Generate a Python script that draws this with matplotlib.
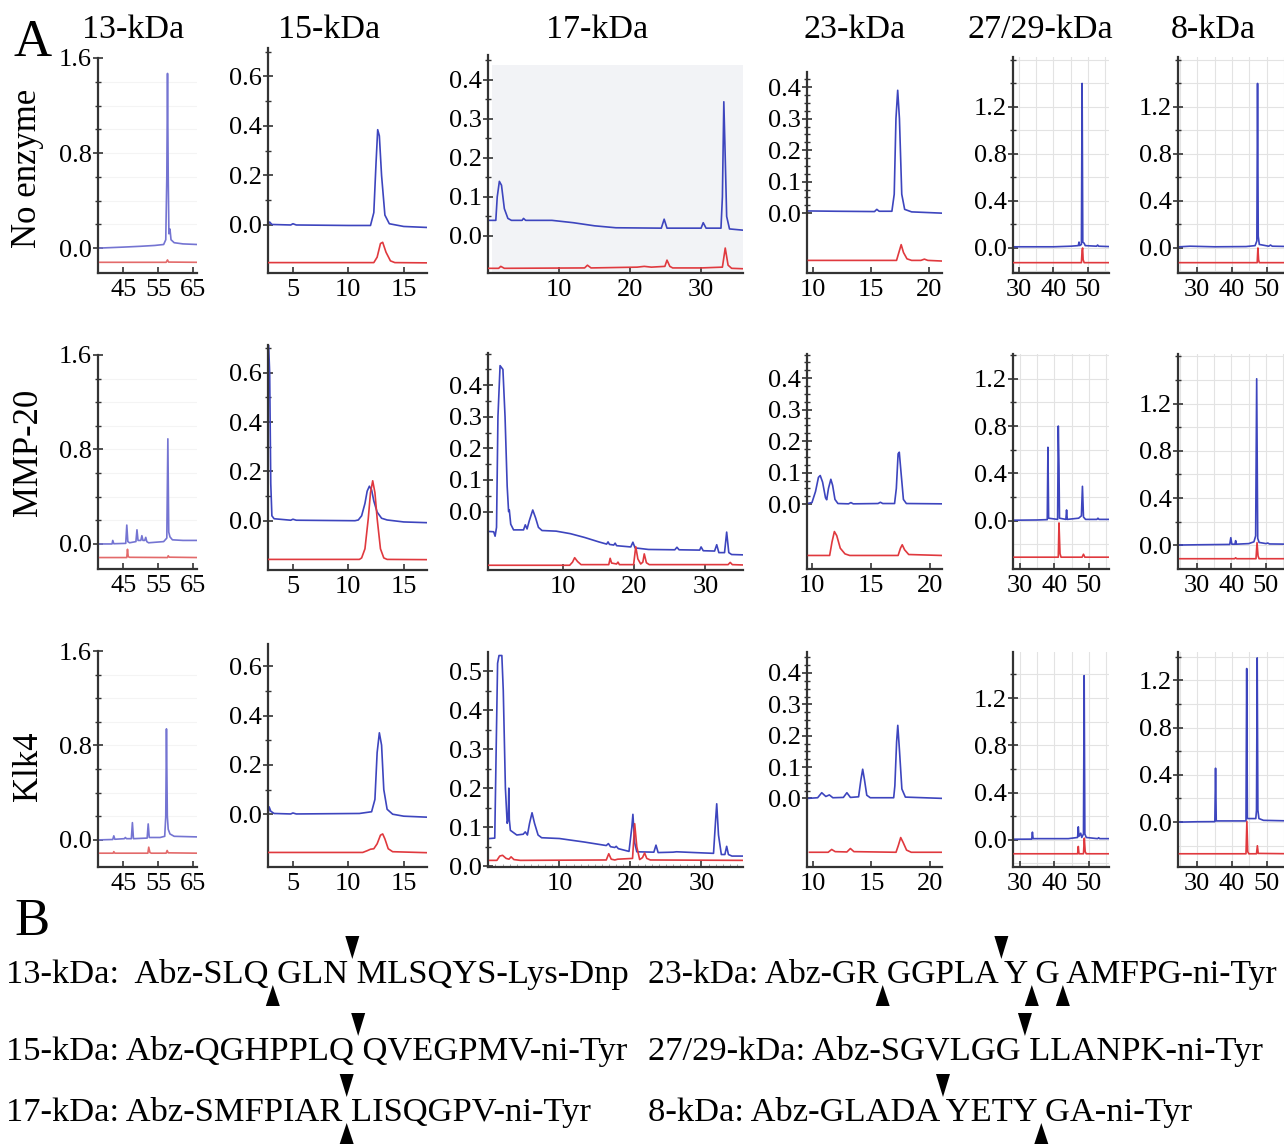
import matplotlib
matplotlib.use('Agg')
import numpy as np
import matplotlib.pyplot as plt
from matplotlib.patches import Polygon, Rectangle
from matplotlib.ticker import FixedLocator, FormatStrFormatter

plt.rcParams['font.family'] = ['Liberation Serif', 'DejaVu Serif']

# ---------------------------------------------------------------- data
columns = ['13-kDa', '15-kDa', '17-kDa', '23-kDa', '27/29-kDa', '8-kDa']
rows = ['No enzyme', 'MMP-20', 'Klk4']
x_ticks = [[45, 55, 65], [5, 10, 15], [10, 20, 30], [10, 15, 20], [30, 40, 50], [30, 40, 50]]

# traces as (time, absorbance) points
NE13_BLUE = [(38.3, 0.0), (45, 0.008), (50, 0.015), (54, 0.022), (56.5, 0.03), (57.1, 0.07), (57.4, 0.6),
             (57.6, 1.47), (57.8, 0.6), (58.0, 0.12), (58.3, 0.16), (58.6, 0.07), (59.5, 0.045), (62, 0.035), (66, 0.03)]
NE13_RED = [(38.3, -0.12), (57.2, -0.12), (57.6, -0.1), (57.9, -0.118), (66, -0.12)]
NE15_BLUE = [(2.8, 0.005), (2.9, 0.012), (3.1, 0.002), (4.8, 0.0), (5.0, 0.005), (5.3, 0.0), (10, -0.002),
             (12.0, -0.002), (12.3, 0.05), (12.5, 0.25), (12.65, 0.385), (12.8, 0.36), (13.0, 0.2), (13.3, 0.04),
             (13.7, 0.005), (15, -0.006), (17.1, -0.01)]
NE15_RED = [(2.8, -0.152), (12.3, -0.152), (12.6, -0.13), (12.9, -0.075), (13.1, -0.07), (13.4, -0.11),
            (13.8, -0.145), (14.2, -0.152), (17.1, -0.153)]
NE17_BLUE = [(0.1, 0.04), (1.1, 0.04), (1.3, 0.1), (1.6, 0.14), (1.9, 0.13), (2.3, 0.07), (2.8, 0.045), (3.3, 0.04),
             (4.8, 0.04), (5.0, 0.045), (5.3, 0.04), (9, 0.04), (12, 0.034), (15, 0.026), (18, 0.021), (24.4, 0.02),
             (24.8, 0.043), (25.2, 0.02), (30.0, 0.02), (30.3, 0.034), (30.7, 0.02), (32.8, 0.02), (33.0, 0.1),
             (33.2, 0.344), (33.4, 0.2), (33.6, 0.05), (34, 0.018), (35.8, 0.015)]
NE17_RED = [(0.1, -0.083), (1.5, -0.083), (1.8, -0.078), (2.3, -0.083), (13.6, -0.082), (14.0, -0.075),
            (14.5, -0.082), (21, -0.08), (22, -0.078), (23, -0.08), (24.9, -0.078), (25.2, -0.062), (25.6, -0.078),
            (26, -0.082), (30, -0.082), (33.0, -0.08), (33.4, -0.031), (33.8, -0.075), (34.3, -0.083), (35.8, -0.084)]
NE23_BLUE = [(9.5, 0.007), (12, 0.006), (15.3, 0.005), (15.5, 0.012), (15.7, 0.006), (16.8, 0.006), (17.0, 0.06),
             (17.15, 0.3), (17.3, 0.39), (17.45, 0.3), (17.65, 0.06), (17.9, 0.012), (18.5, 0.004), (21.1, 0.0)]
NE23_RED = [(9.6, -0.15), (17.2, -0.15), (17.4, -0.125), (17.6, -0.1), (17.8, -0.125), (18.1, -0.145),
            (18.5, -0.15), (19.3, -0.15), (19.6, -0.146), (19.9, -0.15), (21.1, -0.152)]
NE27_BLUE = [(28.5, 0.01), (40, 0.01), (45, 0.015), (47.2, 0.02), (47.4, 0.05), (47.6, 0.02), (48.1, 0.03),
             (48.3, 1.4), (48.5, 0.05), (48.9, 0.04), (49.2, 0.02), (52.5, 0.015), (52.8, 0.025), (53.1, 0.015),
             (56, 0.012)]
NE27_RED = [(28.5, -0.125), (48.1, -0.125), (48.3, -0.02), (48.45, 0.0), (48.6, -0.1), (48.9, -0.125), (56, -0.125)]
NE8_BLUE = [(25, 0.01), (28, 0.015), (35, 0.01), (44, 0.012), (46.6, 0.02), (47.1, 0.06), (47.3, 1.4), (47.5, 0.1),
            (47.8, 0.03), (50.5, 0.015), (51, 0.025), (51.5, 0.015), (57, 0.012)]
NE8_RED = [(25, -0.125), (47.2, -0.125), (47.4, 0.0), (47.6, -0.1), (47.8, -0.125), (57, -0.125)]

MMP13_BLUE = [(38.3, 0.0), (41.8, 0.0), (42.0, 0.03), (42.3, 0.002), (45.7, 0.005), (46.0, 0.16), (46.3, 0.02),
              (46.8, 0.01), (48.6, 0.02), (48.9, 0.12), (49.2, 0.03), (50.0, 0.03), (50.3, 0.07), (50.6, 0.03),
              (51.1, 0.03), (51.4, 0.056), (51.7, 0.02), (52.2, 0.01), (56.5, 0.02), (57.4, 0.05), (57.7, 0.89),
              (57.95, 0.1), (58.3, 0.06), (59, 0.035), (62, 0.03), (66, 0.03)]
MMP13_RED = [(38.3, -0.115), (46.0, -0.115), (46.2, -0.045), (46.4, -0.105), (46.7, -0.113), (57.6, -0.115),
             (57.8, -0.1), (58.1, -0.112), (66, -0.115)]
MMP15_BLUE = [(2.8, 0.72), (2.9, 0.6), (3.0, 0.15), (3.1, 0.02), (3.3, 0.008), (4.8, 0.002), (5.0, 0.006),
              (5.3, 0.002), (10.6, 0.0), (10.9, 0.003), (11.2, 0.02), (11.5, 0.07), (11.7, 0.12), (11.9, 0.14),
              (12.1, 0.125), (12.3, 0.08), (12.6, 0.035), (13.0, 0.01), (13.5, 0.003), (15, -0.005), (17.1, -0.008)]
MMP15_RED = [(2.8, -0.157), (11.0, -0.157), (11.2, -0.151), (11.5, -0.114), (11.8, 0.009), (12.0, 0.114),
             (12.2, 0.162), (12.4, 0.114), (12.6, 0.009), (12.9, -0.114), (13.2, -0.151), (13.5, -0.157),
             (17.1, -0.158)]
MMP17_BLUE = [(-0.5, -0.063), (0.2, -0.064), (0.4, -0.078), (0.6, -0.05), (0.8, 0.3), (1.1, 0.462), (1.5, 0.45),
              (1.8, 0.3), (2.1, 0.08), (2.3, 0.0), (2.4, 0.005), (2.6, -0.04), (3.0, -0.058), (4.4, -0.058),
              (4.65, -0.042), (4.9, -0.055), (5.2, -0.03), (5.7, 0.005), (6.1, -0.02), (6.5, -0.05), (7.0, -0.06),
              (9.0, -0.062), (11, -0.07), (13, -0.082), (15, -0.096), (16.1, -0.103), (16.3, -0.096),
              (16.5, -0.104), (17.1, -0.106), (17.3, -0.1), (17.5, -0.108), (19.5, -0.112), (19.8, -0.097),
              (20.1, -0.115), (22, -0.12), (25.7, -0.121), (26.0, -0.113), (26.3, -0.121), (29.2, -0.122),
              (29.4, -0.112), (29.7, -0.124), (31.3, -0.125), (31.6, -0.105), (31.9, -0.13), (32.7, -0.13),
              (33.0, -0.065), (33.3, -0.13), (33.7, -0.136), (35.2, -0.137)]
MMP17_RED = [(-0.5, -0.17), (10.9, -0.17), (11.3, -0.16), (11.6, -0.146), (12.0, -0.158), (12.5, -0.168),
             (16.4, -0.168), (16.6, -0.148), (16.8, -0.163), (17.5, -0.166), (17.7, -0.16), (17.9, -0.168),
             (19.9, -0.168), (20.2, -0.111), (20.5, -0.15), (20.9, -0.166), (21.2, -0.16), (21.4, -0.134),
             (21.7, -0.162), (22.1, -0.168), (33.2, -0.168), (33.5, -0.161), (33.8, -0.168), (35.2, -0.169)]
MMP23_BLUE = [(9.6, 0.002), (10.0, 0.005), (10.3, 0.04), (10.55, 0.085), (10.7, 0.091), (10.9, 0.07),
              (11.15, 0.02), (11.25, 0.014), (11.4, 0.05), (11.6, 0.079), (11.75, 0.06), (11.95, 0.015),
              (12.2, 0.002), (13.1, 0.001), (13.3, 0.005), (13.5, 0.001), (15.6, 0.002), (15.8, 0.006),
              (16.0, 0.002), (17.0, 0.002), (17.15, 0.05), (17.3, 0.16), (17.4, 0.165), (17.55, 0.1),
              (17.75, 0.015), (18.0, 0.002), (21.0, 0.001)]
MMP23_RED = [(9.7, -0.163), (11.5, -0.163), (11.7, -0.12), (11.9, -0.087), (12.1, -0.1), (12.4, -0.14),
             (12.8, -0.158), (13.2, -0.163), (17.3, -0.163), (17.5, -0.14), (17.65, -0.129), (17.85, -0.145),
             (18.2, -0.16), (21.0, -0.163)]
MMP27_BLUE = [(28.3, 0.003), (35, 0.005), (37.9, 0.008), (38.1, 0.62), (38.3, 0.02), (40.9, 0.01), (41.1, 0.8),
              (41.3, 0.45), (41.45, 0.02), (43.3, 0.01), (43.5, 0.09), (43.7, 0.01), (47, 0.02), (47.8, 0.04),
              (48.1, 0.29), (48.4, 0.03), (49, 0.01), (52.3, 0.01), (52.6, 0.02), (52.9, 0.01), (55.8, 0.01)]
MMP27_RED = [(28.3, -0.31), (41.1, -0.31), (41.3, -0.02), (41.6, -0.28), (41.9, -0.31), (48.0, -0.31),
             (48.4, -0.285), (48.8, -0.31), (55.8, -0.31)]
MMP8_BLUE = [(25, 0.003), (30, 0.005), (39.5, 0.008), (39.8, 0.065), (40.1, 0.01), (41.0, 0.01), (41.2, 0.04),
             (41.4, 0.01), (45, 0.015), (46.5, 0.03), (47.0, 0.08), (47.3, 1.41), (47.6, 0.06), (48.0, 0.025),
             (50, 0.015), (50.5, 0.02), (51, 0.012), (57, 0.01)]
MMP8_RED = [(25, -0.113), (40.9, -0.113), (41.2, -0.105), (41.5, -0.113), (47.1, -0.113), (47.4, 0.023),
            (47.7, -0.09), (48.0, -0.113), (57, -0.113)]

KLK13_BLUE = [(38.3, 0.0), (42.0, 0.003), (42.3, 0.034), (42.6, 0.005), (45.3, 0.01), (45.6, 0.02), (45.9, 0.01),
              (47.3, 0.01), (47.6, 0.146), (47.9, 0.01), (51.8, 0.015), (52.1, 0.135), (52.4, 0.02), (55.5, 0.02),
              (56.8, 0.03), (57.1, 0.2), (57.3, 0.94), (57.55, 0.2), (57.8, 0.09), (58.3, 0.05), (59.5, 0.03),
              (66, 0.025)]
KLK13_RED = [(38.3, -0.113), (42.1, -0.113), (42.3, -0.1), (42.6, -0.113), (52.0, -0.113), (52.25, -0.062),
             (52.6, -0.108), (53, -0.113), (57.2, -0.113), (57.5, -0.09), (57.8, -0.11), (66, -0.113)]
KLK15_BLUE = [(2.8, 0.01), (2.85, 0.03), (3.0, 0.012), (3.3, 0.003), (4.8, 0.001), (5.0, 0.005), (5.3, 0.001),
              (11, 0.003), (12.1, 0.01), (12.4, 0.06), (12.6, 0.25), (12.8, 0.33), (13.0, 0.28), (13.2, 0.1),
              (13.5, 0.02), (14, 0.0), (15, -0.008), (17.1, -0.012)]
KLK15_RED = [(2.8, -0.155), (11.3, -0.155), (11.7, -0.148), (12.0, -0.142), (12.3, -0.14), (12.6, -0.12),
             (12.9, -0.085), (13.1, -0.08), (13.3, -0.1), (13.6, -0.14), (14.0, -0.152), (17.1, -0.156)]
KLK17_BLUE = [(0.2, 0.071), (0.9, 0.072), (1.1, 0.3), (1.3, 0.52), (1.5, 0.54), (1.9, 0.54), (2.1, 0.45),
              (2.4, 0.2), (2.65, 0.11), (2.8, 0.12), (2.88, 0.2), (2.95, 0.12), (3.1, 0.092), (4.0, 0.08),
              (4.9, 0.082), (5.2, 0.088), (5.5, 0.08), (5.8, 0.11), (6.15, 0.137), (6.5, 0.11), (7.0, 0.08),
              (7.5, 0.073), (10, 0.071), (13.5, 0.062), (16.6, 0.053), (16.9, 0.058), (17.2, 0.05), (17.8, 0.048),
              (18.0, 0.051), (18.3, 0.045), (19.8, 0.038), (20.2, 0.1), (20.35, 0.133), (20.6, 0.06),
              (20.9, 0.037), (23.3, 0.036), (23.6, 0.054), (23.9, 0.035), (26, 0.036), (26.5, 0.037), (29, 0.035),
              (31.7, 0.033), (32.0, 0.12), (32.15, 0.16), (32.4, 0.08), (32.8, 0.03), (33.3, 0.03),
              (33.55, 0.051), (33.8, 0.03), (34.3, 0.026), (35.8, 0.026)]
KLK17_RED = [(0.2, 0.015), (1.2, 0.015), (1.6, 0.026), (2.0, 0.028), (2.5, 0.02), (2.9, 0.018), (3.2, 0.024),
             (3.6, 0.017), (4.5, 0.015), (16.6, 0.016), (16.95, 0.032), (17.3, 0.018), (17.8, 0.016),
             (18.2, 0.018), (20.3, 0.02), (20.6, 0.109), (20.9, 0.05), (21.3, 0.017), (21.7, 0.022),
             (22.0, 0.034), (22.3, 0.02), (22.8, 0.016), (35.8, 0.015)]
KLK23_BLUE = [(9.6, 0.0), (10.4, 0.002), (10.75, 0.018), (11.1, 0.006), (11.4, 0.011), (11.7, 0.002),
              (12.6, 0.003), (12.9, 0.018), (13.2, 0.003), (13.9, 0.005), (14.1, 0.06), (14.25, 0.093),
              (14.4, 0.06), (14.6, 0.01), (14.9, 0.002), (16.9, 0.002), (17.0, 0.04), (17.15, 0.18),
              (17.25, 0.233), (17.4, 0.15), (17.6, 0.03), (17.9, 0.004), (21.0, 0.0)]
KLK23_RED = [(9.7, -0.172), (11.3, -0.172), (11.6, -0.163), (11.9, -0.17), (12.9, -0.171), (13.2, -0.16),
             (13.5, -0.17), (17.1, -0.172), (17.3, -0.15), (17.5, -0.125), (17.7, -0.14), (18.0, -0.165),
             (18.4, -0.172), (21.0, -0.172)]
KLK27_BLUE = [(28.3, 0.005), (33.4, 0.006), (33.6, 0.065), (33.8, 0.01), (44, 0.01), (46.7, 0.02), (46.9, 0.11),
              (47.1, 0.03), (47.6, 0.056), (47.9, 0.02), (48.4, 0.05), (48.6, 1.39), (48.8, 0.05), (49.2, 0.02),
              (52.5, 0.01), (52.8, 0.018), (53.1, 0.01), (55.8, 0.01)]
KLK27_RED = [(28.3, -0.118), (46.7, -0.118), (46.9, -0.056), (47.1, -0.118), (48.4, -0.118), (48.65, 0.014),
             (48.9, -0.1), (49.2, -0.118), (55.8, -0.118)]
KLK8_BLUE = [(25, 0.0), (30, 0.003), (35.1, 0.004), (35.3, 0.456), (35.5, 0.01), (44.0, 0.01), (44.2, 1.30),
             (44.4, 0.03), (46.8, 0.03), (47.0, 0.1), (47.2, 1.39), (47.4, 0.1), (47.7, 0.03), (49, 0.015),
             (57, 0.01)]
KLK8_RED = [(25, -0.268), (44.0, -0.268), (44.25, 0.006), (44.5, -0.25), (44.8, -0.268), (47.0, -0.268),
            (47.25, -0.2), (47.5, -0.265), (57, -0.268)]

BLUE = [[NE13_BLUE, NE15_BLUE, NE17_BLUE, NE23_BLUE, NE27_BLUE, NE8_BLUE],
        [MMP13_BLUE, MMP15_BLUE, MMP17_BLUE, MMP23_BLUE, MMP27_BLUE, MMP8_BLUE],
        [KLK13_BLUE, KLK15_BLUE, KLK17_BLUE, KLK23_BLUE, KLK27_BLUE, KLK8_BLUE]]
RED = [[NE13_RED, NE15_RED, NE17_RED, NE23_RED, NE27_RED, NE8_RED],
       [MMP13_RED, MMP15_RED, MMP17_RED, MMP23_RED, MMP27_RED, MMP8_RED],
       [KLK13_RED, KLK15_RED, KLK17_RED, KLK23_RED, KLK27_RED, KLK8_RED]]

# panel B: substrates, a space marks a cleavage site
SEQ_LEFT = ['13-kDa:  Abz-SLQ GLN MLSQYS-Lys-Dnp', '15-kDa: Abz-QGHPPLQ QVEGPMV-ni-Tyr',
            '17-kDa: Abz-SMFPIAR LISQGPV-ni-Tyr']
SEQ_RIGHT = ['23-kDa: Abz-GR GGPLA Y G AMFPG-ni-Tyr', '27/29-kDa: Abz-SGVLGG LLANPK-ni-Tyr',
             '8-kDa: Abz-GLADA YETY GA-ni-Tyr']
# (sequence, which cleavage gap, side of the arrowhead)
CUTS_LEFT = [(0, 0, 'below'), (0, 1, 'above'), (1, 0, 'above'), (2, 0, 'above'), (2, 0, 'below')]
CUTS_RIGHT = [(0, 0, 'below'), (0, 1, 'above'), (0, 2, 'below'), (0, 3, 'below'), (1, 0, 'above'),
              (2, 0, 'above'), (2, 1, 'below')]

# ---------------------------------------------------------------- layout (pixels)
W, H = 1284, 1145
COL_X = [(98, 197), (268, 427), (488, 743), (807, 942), (1013, 1109), (1178, 1291)]
ROW_Y = [[(58, 273), (48, 273), (55, 273), (72, 273), (57, 273), (57, 273)],
         [(355, 569), (345, 570), (353, 570), (354, 569), (354, 569), (354, 569)],
         [(651, 867), (644, 867), (652, 867), (652, 867), (652, 867), (652, 867)]]
XLIM = [[(37.8, 66.0), (2.75, 17.1), (0.0, 35.9), (9.48, 21.12), (28.26, 56.1), (24.57, 56.86)],
        [(37.8, 66.0), (2.75, 17.1), (-0.6, 35.3), (9.58, 21.02), (27.97, 55.8), (24.49, 57.25)],
        [(37.8, 66.0), (2.75, 17.1), (-0.05, 35.85), (9.49, 21.03), (27.97, 55.8), (24.57, 56.86)]]
YLIM = [[(-0.21, 1.6), (-0.194, 0.715), (-0.095, 0.464), (-0.19, 0.448), (-0.213, 1.625), (-0.213, 1.625)],
        [(-0.212, 1.6), (-0.2, 0.713), (-0.185, 0.502), (-0.206, 0.477), (-0.41, 1.41), (-0.2, 1.62)],
        [(-0.23, 1.6), (-0.214, 0.69), (-0.002, 0.549), (-0.219, 0.467), (-0.23, 1.59), (-0.38, 1.44)]]
Y_TOP = [[1.6, 0.6, 0.4, 0.4, 1.2, 1.2],
         [1.6, 0.6, 0.4, 0.4, 1.2, 1.2],
         [1.6, 0.6, 0.5, 0.4, 1.2, 1.2]]
Y_MAJOR = [0.8, 0.2, 0.1, 0.1, 0.4, 0.4]
Y_MINOR = [0.2, 0.1, 0.05, 0.025, 0.2, 0.2]

TICK_SIZE = 19
SPINE = '#333333'

fig = plt.figure(figsize=(W / 100, H / 100), dpi=100)


def fx(px):
    return px / W


def fy(py):
    return 1 - py / H


for r in range(3):
    for c in range(6):
        x0, x1 = COL_X[c]
        yt, yb = ROW_Y[r][c]
        ax = fig.add_axes([fx(x0), fy(yb), (x1 - x0) / W, (yb - yt) / H])
        ax.set_facecolor('none')
        lo, hi = YLIM[r][c]
        ax.set_xlim(*XLIM[r][c])
        ax.set_ylim(lo, hi)

        if c == 2 and r == 0:
            ax.add_patch(Rectangle((0.016, 0), 0.984, 0.954, transform=ax.transAxes,
                                   color='#f2f3f6', zorder=0, lw=0))
        if c >= 4:
            for gy in np.arange(-0.4, hi, 0.2):
                ax.axhline(gy, color='#e3e3e3', lw=0.8, zorder=0)
            for gx in range(25, 60, 5):
                ax.axvline(gx, color='#e3e3e3', lw=0.8, zorder=0)
        if c == 0:
            for gy in np.arange(0.2, hi, 0.2):
                ax.axhline(gy, color='#f4f4f4', lw=0.8, zorder=0)

        bx, by = zip(*BLUE[r][c])
        rx, ry = zip(*RED[r][c])
        bcol = '#7474d2' if c == 0 else '#3d45be'
        rcol = '#e36a6a' if c == 0 else '#e0393e'
        ax.plot(bx, by, color=bcol, lw=1.2, zorder=2)
        ax.plot(rx, ry, color=rcol, lw=1.2, zorder=3)

        for s in ['top', 'right']:
            ax.spines[s].set_visible(False)
        for s in ['left', 'bottom']:
            ax.spines[s].set_color(SPINE)
            ax.spines[s].set_linewidth(1.6)

        ax.yaxis.set_major_locator(FixedLocator(np.arange(0, Y_TOP[r][c] + 1e-6, Y_MAJOR[c])))
        ax.yaxis.set_minor_locator(FixedLocator(np.arange(0, hi + 1e-6, Y_MINOR[c])))
        ax.yaxis.set_major_formatter(FormatStrFormatter('%.1f'))
        ax.set_xticks(x_ticks[c])
        if r == 2 and c == 2:
            ax.xaxis.set_minor_locator(FixedLocator(np.arange(1, 36, 1)))
            ax.tick_params(axis='x', which='minor', direction='in', length=2, color='#999999')
        ax.tick_params(axis='y', which='major', direction='inout', length=7, width=1.2,
                       color=SPINE, labelsize=TICK_SIZE, pad=1)
        ax.tick_params(axis='y', which='minor', direction='inout', length=5, width=1.0, color=SPINE)
        ax.tick_params(axis='x', which='major', direction='in', length=4, width=1.2,
                       color=SPINE, labelsize=TICK_SIZE, pad=4)

# column titles and row labels
title_x = [133, 329, 597, 855, 1040, 1213]
for c, name in enumerate(columns):
    fig.text(fx(title_x[c]), fy(30), name, fontsize=24.5, ha='center', va='center')
row_y = [168, 452, 766]
for r, name in enumerate(rows):
    fig.text(fx(28), fy(row_y[r]), name, fontsize=25, rotation=90, ha='center', va='center')
fig.text(fx(14), fy(56), 'A', fontsize=38, ha='left', va='baseline')
fig.text(fx(14), fy(935), 'B', fontsize=38, ha='left', va='baseline')

# ---------------------------------------------------------------- panel B
renderer = fig.canvas.get_renderer()


def text_w(s, size):
    t = fig.text(0, 0, s, fontsize=size)
    w = t.get_window_extent(renderer).width
    t.remove()
    return w


def triangle(xc, ytip, side):
    if side == 'above':
        pts = [(xc - 7, ytip - 23), (xc + 7, ytip - 23), (xc, ytip)]
    else:
        pts = [(xc - 7, ytip + 21), (xc + 7, ytip + 21), (xc, ytip)]
    fig.add_artist(Polygon([(fx(a), fy(b)) for a, b in pts], closed=True,
                           transform=fig.transFigure, color='black', lw=0))


baselines = [983, 1060, 1121]
sizes_left = [24.8, 24.8, 24.8]
sizes_right = [24.2, 24.8, 24.8]   # first right line shrunk slightly to stay inside the figure
for seqs, cuts, x0, sizes in [(SEQ_LEFT, CUTS_LEFT, 6, sizes_left), (SEQ_RIGHT, CUTS_RIGHT, 648, sizes_right)]:
    for i, s in enumerate(seqs):
        fig.text(fx(x0), fy(baselines[i]), s, fontsize=sizes[i], ha='left', va='baseline')
    for i, g, side in cuts:
        s = seqs[i]
        start = s.index('Abz-')
        gaps = [k for k in range(start, len(s)) if s[k] == ' ']
        k = gaps[g]
        left = text_w(s[:k], sizes[i])
        right = text_w(s[:k + 2], sizes[i]) - text_w(s[k + 1], sizes[i])
        xc = x0 + (left + right) / 2
        if side == 'above':
            triangle(xc, baselines[i] - 24, side)
        else:
            triangle(xc, baselines[i] + 2, side)

fig.savefig('out.png', dpi=100)
